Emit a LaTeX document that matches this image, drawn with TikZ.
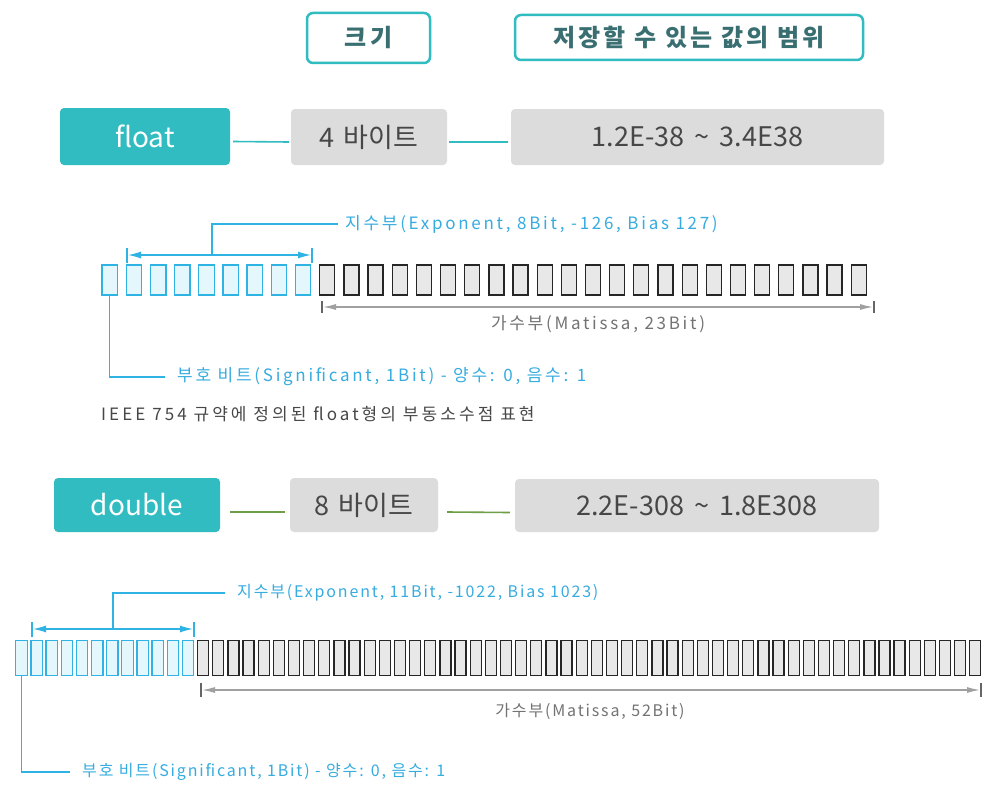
\documentclass[tikz,border=0pt]{standalone}
\usepackage{fontspec}
\setmainfont{Noto Sans CJK KR}
\usetikzlibrary{arrows.meta,calc}
\definecolor{tealA}{HTML}{30BCC1}
\definecolor{greyA}{HTML}{DCDCDC}
\definecolor{darkT}{HTML}{474747}
\definecolor{hdrT}{HTML}{3A6F72}
\definecolor{bitB}{HTML}{2FB2E4}
\definecolor{bitF}{HTML}{E4F7FC}
\definecolor{lblB}{HTML}{36ACE0}
\definecolor{greenL}{HTML}{6E9E45}
\definecolor{greyArr}{HTML}{A0A0A0}
\definecolor{bitG}{HTML}{E8E8E8}
\tikzset{
  hdr/.style={draw=tealA, line width=2.5pt, rounded corners=6pt, fill=white, text=hdrT, inner sep=0pt, font=\fontsize{24}{26}\selectfont\bfseries\addfontfeature{LetterSpace=13}},
  typebox/.style={fill=tealA, rounded corners=4pt, text=white, inner sep=0pt, font=\fontsize{28}{30}\selectfont},
  gbox/.style={fill=greyA, rounded corners=4pt, text=darkT, inner sep=0pt, font=\fontsize{27}{30}\selectfont},
  tline/.style={draw=tealA, line width=1.6pt},
  gline/.style={draw=greenL, line width=1.6pt},
  bitblue/.style={draw=bitB, fill=bitF, line width=1.3pt, inner sep=0pt},
  bitgrey/.style={draw=black!85, fill=bitG, line width=1.3pt, inner sep=0pt},
  bluel/.style={draw=bitB, line width=1.3pt},
  bluearr/.style={draw=bitB, line width=1.3pt, {Latex[length=13pt,width=7pt]}-{Latex[length=13pt,width=7pt]}},
  greyarr/.style={draw=greyArr, line width=1.3pt, {Latex[length=13pt,width=6pt]}-{Latex[length=13pt,width=6pt]}},
  greytick/.style={draw=black!60, line width=1.2pt},
  lbl/.style={text=lblB, inner sep=0pt, font=\fontsize{17}{19}\selectfont\addfontfeature{LetterSpace=16}},
  glbl/.style={text=black!55, inner sep=0pt, font=\fontsize{17}{19}\selectfont\addfontfeature{LetterSpace=16}},
  lbld/.style={text=lblB, inner sep=0pt, font=\fontsize{16}{18}\selectfont\addfontfeature{LetterSpace=11.5}},
  glbld/.style={text=black!55, inner sep=0pt, font=\fontsize{16}{18}\selectfont\addfontfeature{LetterSpace=11.5}},
  captxt/.style={text=darkT, inner sep=0pt, font=\fontsize{17}{19}\selectfont\addfontfeature{LetterSpace=18}},
}
\begin{document}
\begin{tikzpicture}[x=1pt,y=-1pt]
\useasboundingbox[fill=white] (0,0) rectangle (995,800);
% headers
\node[hdr, minimum width=123pt, minimum height=50pt] (hsize) at (368.5,38) {크기};
\node[hdr, minimum width=348pt, minimum height=45pt] (hrange) at (689,37.5) {저장할 수 있는 값의 범위};
% float row
\node[typebox, minimum width=170pt, minimum height=57pt] (tfloat) at (145,136.5) {float};
\node[gbox, minimum width=156pt, minimum height=56pt] (sfloat) at (369,137) {4\hspace{9pt}바이트};
\node[gbox, minimum width=373pt, minimum height=56pt] (rfloat) at (697.5,137) {1.2E-38\hspace{4pt} \textasciitilde{}\hspace{4pt} 3.4E38};
\draw[tline] ($(tfloat.east)+(3,5)$) -- ($(sfloat.west)+(-2,5)$);
\draw[tline] ($(sfloat.east)+(2,5)$) -- ($(rfloat.west)+(-3,5)$);
% float bits
\foreach \i in {0,...,31}{
  \pgfmathsetmacro{\cx}{109.8+24.16*\i}
  \ifnum\i<9
    \node[bitblue, minimum width=15.5pt, minimum height=30pt] (f\i) at (\cx,280) {};
  \else
    \node[bitgrey, minimum width=15pt, minimum height=30pt] (f\i) at (\cx,280) {};
  \fi
}
% float exponent
\coordinate (feL) at (127,255);
\coordinate (feR) at (312,255);
\coordinate (feM) at (212,255);
\coordinate (feT) at (212,224);
\coordinate (feE) at (338,224);
\draw[bluel] ($(feL)+(0,-7)$) -- ($(feL)+(0,8)$);
\draw[bluel] ($(feR)+(0,-7)$) -- ($(feR)+(0,8)$);
\draw[bluearr] ($(feL)+(1,0)$) -- ($(feR)+(-1,0)$);
\draw[bluel] (feM) -- (feT) -- (feE);
\node[lbl, anchor=west] (fexplbl) at (345,224) {지수부(Exponent, 8Bit, -126, Bias 127)};
% float mantissa
\coordinate (fmL) at (322,307);
\coordinate (fmR) at (874,307);
\draw[greytick] ($(fmL)+(0,-6)$) -- ($(fmL)+(0,6)$);
\draw[greytick] ($(fmR)+(0,-6)$) -- ($(fmR)+(0,6)$);
\draw[greyarr] ($(fmL)+(1,0)$) -- ($(fmR)+(-1,0)$);
\node[glbl] (fmanlbl) at (598,324) {가수부(Matissa, 23Bit)};
% float sign
\coordinate (fsC) at (f0.south |- 0,377);
\coordinate (fsE) at (165,377);
\draw[bluel] (f0.south) -- (fsC) -- (fsE);
\node[lbl, anchor=west] (fsignlbl) at (177,377) {부호 비트(Significant, 1Bit) - 양수: 0, 음수: 1};
% caption
\node[captxt, anchor=west] (caption) at (101,414) {IEEE 754 규약에 정의된 float형의 부동소수점 표현};
% double row
\node[typebox, minimum width=166pt, minimum height=54pt] (tdouble) at (137,505) {double};
\node[gbox, minimum width=148pt, minimum height=54pt] (sdouble) at (364,505) {8\hspace{9pt}바이트};
\node[gbox, minimum width=364pt, minimum height=53pt] (rdouble) at (697,505.5) {2.2E-308\hspace{4pt} \textasciitilde{}\hspace{4pt} 1.8E308};
\draw[gline] ($(tdouble.east)+(10,7)$) -- ($(sdouble.west)+(-5,7)$);
\draw[gline] ($(sdouble.east)+(9,7)$) -- ($(rdouble.west)+(-5,7)$);
% double bits
\foreach \i in {0,...,63}{
  \pgfmathsetmacro{\cx}{21.5+15.14*\i}
  \ifnum\i<12
    \node[bitblue, minimum width=11.5pt, minimum height=35pt] (d\i) at (\cx,658) {};
  \else
    \node[bitgrey, minimum width=11pt, minimum height=35pt] (d\i) at (\cx,658) {};
  \fi
}
% double exponent
\coordinate (deL) at (32,629);
\coordinate (deR) at (194,629);
\coordinate (deM) at (113,629);
\coordinate (deT) at (113,593);
\coordinate (deE) at (225,593);
\draw[bluel] ($(deL)+(0,-7)$) -- ($(deL)+(0,8)$);
\draw[bluel] ($(deR)+(0,-7)$) -- ($(deR)+(0,8)$);
\draw[bluearr] ($(deL)+(1,0)$) -- ($(deR)+(-1,0)$);
\draw[bluel] (deM) -- (deT) -- (deE);
\node[lbld, anchor=west] (dexplbl) at (237,593) {지수부(Exponent, 11Bit, -1022, Bias 1023)};
% double mantissa
\coordinate (dmL) at (201,690);
\coordinate (dmR) at (981,690);
\draw[greytick] ($(dmL)+(0,-7)$) -- ($(dmL)+(0,7)$);
\draw[greytick] ($(dmR)+(0,-7)$) -- ($(dmR)+(0,7)$);
\draw[greyarr] ($(dmL)+(1,0)$) -- ($(dmR)+(-1,0)$);
\node[glbld] (dmanlbl) at (590,711) {가수부(Matissa, 52Bit)};
% double sign
\coordinate (dsC) at (d0.south |- 0,772);
\coordinate (dsE) at (70,772);
\draw[bluel] (d0.south) -- (dsC) -- (dsE);
\node[lbld, anchor=west] (dsignlbl) at (82,772) {부호 비트(Significant, 1Bit) - 양수: 0, 음수: 1};
\end{tikzpicture}
\end{document}
